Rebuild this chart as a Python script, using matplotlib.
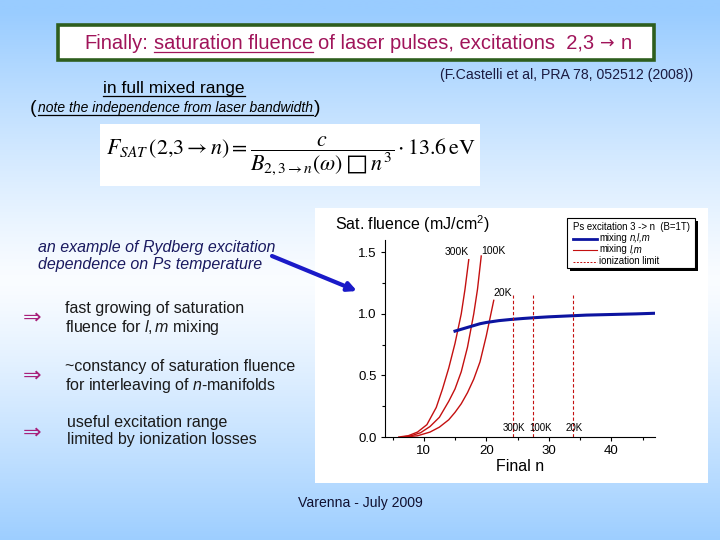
import numpy as np
import matplotlib
matplotlib.use("Agg")
import matplotlib.pyplot as plt
from matplotlib.patches import Rectangle
from matplotlib.ticker import MultipleLocator

plt.rcParams['font.family'] = ['Liberation Sans', 'DejaVu Sans']
plt.rcParams['mathtext.fontset'] = 'custom'
plt.rcParams['mathtext.rm'] = 'Liberation Sans'
plt.rcParams['mathtext.it'] = 'Liberation Sans:italic'

# datos (fluencia de saturacion vs n final)
n_300 = [6, 7.5, 9, 10.5, 12, 13, 14, 15, 16, 16.6, 17.2]
f_300 = [0.0, 0.01, 0.04, 0.10, 0.24, 0.39, 0.56, 0.76, 1.0, 1.2, 1.44]
n_100 = [6.5, 8, 9.5, 11, 12.5, 14, 15, 16, 17, 18, 18.6, 19.2]
f_100 = [0.0, 0.01, 0.035, 0.085, 0.16, 0.29, 0.39, 0.53, 0.73, 1.0, 1.2, 1.47]
n_20 = [7, 9, 11, 12.5, 14, 15, 16, 17, 18, 19, 20, 21.2]
f_20 = [0.0, 0.01, 0.04, 0.08, 0.14, 0.20, 0.27, 0.36, 0.47, 0.61, 0.82, 1.11]
n_mix = [15, 16, 17, 18, 19, 20, 22, 24, 26, 28, 30, 33, 36, 40, 44, 47]
f_mix = [0.86, 0.875, 0.89, 0.905, 0.92, 0.93, 0.945, 0.955, 0.963, 0.97, 0.976,
         0.983, 0.99, 0.995, 1.0, 1.005]
temps = ["300K", "100K", "20K"]
n_ion = [24.3, 27.4, 33.8]
ion_top = 1.15
leyenda_titulo = "Ps excitation 3 -> n  (B=1T)"
leyenda = [("mixing", "n,l,m"), ("mixing", "l,m"), ("ionization limit", "")]

rojo = "#c41010"
azul = "#0c14a0"
titulo_col = "#a0145a"

fig = plt.figure(figsize=(7.2, 5.4), dpi=100)

# fondo degradado (coordenadas en pixeles, y hacia abajo)
bg = fig.add_axes([0, 0, 1, 1])
t = np.linspace(0, 1, 300)
w = np.clip(np.abs(t - 0.52) / 0.5, 0, 1) ** 1.2
top = np.array([0.60, 0.80, 1.0])
mid = np.array([0.98, 0.99, 1.0])
grad = mid[None, :] + (top - mid)[None, :] * w[:, None]
bg.imshow(grad[:, None, :], aspect='auto', extent=(0, 720, 540, 0), zorder=0)
bg.set_xlim(0, 720)
bg.set_ylim(540, 0)
bg.axis('off')

rend = fig.canvas.get_renderer()


def ancho(txt):
    return txt.get_window_extent(renderer=rend).width


def texto_seq(x, y, piezas, zorder=5, **kw):
    # piezas: (texto, opciones, subrayado)
    sp = bg.text(0, 0, "x x", **kw)
    sp2 = bg.text(0, 0, "xx", **kw)
    gap = ancho(sp) - ancho(sp2)
    sp.remove()
    sp2.remove()
    for s, op, sub in piezas:
        if s == " ":
            x += gap
            continue
        opts = dict(kw)
        opts.update(op)
        tt = bg.text(x, y, s, va='baseline', ha='left', zorder=zorder, **opts)
        wd = ancho(tt)
        if sub:
            bg.plot([x, x + wd], [y + 2.5, y + 2.5], color=opts.get('color', 'k'),
                    lw=0.9, zorder=zorder)
        x += wd
    return x


# caja del titulo
bg.add_patch(Rectangle((58, 25), 596, 35, fc='white', ec='#2e5e1e', lw=2.6, zorder=2))
texto_seq(84, 49, [("Finally:", {}, False), (" ", {}, False),
                   ("saturation fluence", {}, True), (" ", {}, False),
                   ("of laser pulses, excitations  2,3 ", {}, False),
                   ("\u2192", {'family': 'DejaVu Sans', 'fontsize': 12.5}, False),
                   (" ", {}, False), ("n", {}, False)],
          fontsize=14.5, color=titulo_col)

bg.text(567, 75, "(F.Castelli et al, PRA 78, 052512 (2008))", fontsize=10.2,
        color='#1a1a40', ha='center', va='center')

tmp = bg.text(0, 0, "in full mixed range", fontsize=12.5)
wf = ancho(tmp)
tmp.remove()
texto_seq(174 - wf / 2, 93, [("in full mixed range", {}, True)], fontsize=12.5,
          color='k')

x = texto_seq(30, 113, [("(", {}, False)], color='k', fontsize=14)
x = texto_seq(x + 1, 112, [("note the independence from laser bandwidth",
                            {'style': 'italic'}, True)], fontsize=10, color='k')
texto_seq(x + 1, 113, [(")", {}, False)], fontsize=14, color='k')

# formula
bg.add_patch(Rectangle((100, 124), 380, 62, fc='white', ec='none', zorder=2))
bg.text(291, 156,
        r"$F_{SAT}\,(2{,}3 \rightarrow n) = \dfrac{c}{B_{2,3\rightarrow n}(\omega)\;"
        "\u25a1"
        r"\;n^{3}}\cdot 13.6\,\mathrm{eV}$",
        fontsize=15.8, ha='center', va='center', math_fontfamily='stix', zorder=5)

# texto izquierdo
bg.text(38, 256, "an example of Rydberg excitation\ndependence on Ps temperature",
        fontsize=11.5, style='italic', color='#1a1a60', va='center', ha='left',
        linespacing=1.2)
bullets = ["fast growing of saturation\nfluence for $l,m$ mixing",
           "~constancy of saturation fluence\nfor interleaving of $n$-manifolds",
           "useful excitation range\nlimited by ionization losses"]
by = [319, 377, 431]
bx = [65, 65, 67]
ay = [318, 376, 433]
for s, yy, xx, aa in zip(bullets, by, bx, ay):
    bg.text(32, aa, "\u21d2", fontsize=16, color='#a8207a', ha='center', va='center',
            family=['DejaVu Sans'])
    bg.text(xx, yy, s, fontsize=11.5, color='#1a1a1a', va='center', ha='left',
            linespacing=1.2)

bg.text(360, 503, "Varenna - July 2009", fontsize=10.1, color='#101030',
        ha='center', va='center')

# panel blanco del grafico
bg.add_patch(Rectangle((315, 208), 393, 275, fc='white', ec='none', zorder=2))
bg.text(335, 224, "Sat. fluence (mJ/cm$^2$)", fontsize=11.5, va='center', ha='left',
        zorder=5)

bg.annotate("", xy=(357, 291), xytext=(272, 256), zorder=6,
            arrowprops=dict(arrowstyle='-|>', color='#1a1ac8', lw=3,
                            mutation_scale=13, shrinkA=0, shrinkB=0))

ax = fig.add_axes([385 / 720, 103 / 540, 270 / 720, 197 / 540])
ax.set_facecolor('none')
ax.plot(n_300, f_300, color=rojo, lw=1)
ax.plot(n_100, f_100, color=rojo, lw=1)
ax.plot(n_20, f_20, color=rojo, lw=1)
ax.plot(n_mix, f_mix, color=azul, lw=2.2)
ax.vlines(n_ion, 0, ion_top, colors=rojo, lw=0.8, linestyles=(0, (3, 2)))

ax.text(n_300[-1], 1.5, temps[0], fontsize=7.5, ha='right', va='center')
ax.text(n_100[-1], 1.51, temps[1], fontsize=7.5, ha='left', va='center')
ax.text(n_20[-1], 1.17, temps[2], fontsize=7.5, ha='left', va='center')
for nn, lab, dx in zip(n_ion, temps, [0.2, 1.3, 0.3]):
    ax.text(nn + dx, 0.07, lab, fontsize=7, ha='center', va='center')

ax.set_xlim(3.8, 47)
ax.set_ylim(0, 1.6)
ax.xaxis.set_major_locator(MultipleLocator(10))
ax.xaxis.set_minor_locator(MultipleLocator(5))
ax.yaxis.set_major_locator(MultipleLocator(0.5))
ax.yaxis.set_minor_locator(MultipleLocator(0.25))
ax.spines['top'].set_visible(False)
ax.spines['right'].set_visible(False)
ax.tick_params(direction='out', length=3, width=0.8, labelsize=9.5, pad=3)
ax.tick_params(which='minor', direction='out', length=2, width=0.8)
ax.set_xlabel("Final n", fontsize=11.5, labelpad=1)

# leyenda dibujada a mano (caja con sombra)
bg.add_patch(Rectangle((570, 221), 128, 50, fc='black', ec='none', zorder=6))
bg.add_patch(Rectangle((567, 218), 128, 50, fc='white', ec='black', lw=0.8, zorder=7))
texto_seq(573, 230, [(leyenda_titulo, {}, False)], zorder=8, fontsize=6.9)
estilos = [dict(color=azul, lw=2), dict(color=rojo, lw=0.8),
           dict(color=rojo, lw=0.7, ls=(0, (2, 1.5)))]
for i, ((lab, lab_it), est) in enumerate(zip(leyenda, estilos)):
    yy = 238.5 + 11.5 * i
    bg.plot([573, 597], [yy, yy], zorder=8, **est)
    piezas = [(lab, {}, False)]
    if lab_it:
        piezas += [(" ", {}, False), (lab_it, {'style': 'italic'}, False)]
    texto_seq(599, yy + 2.5, piezas, zorder=8, fontsize=6.9)

plt.savefig("out.png", dpi=100)
